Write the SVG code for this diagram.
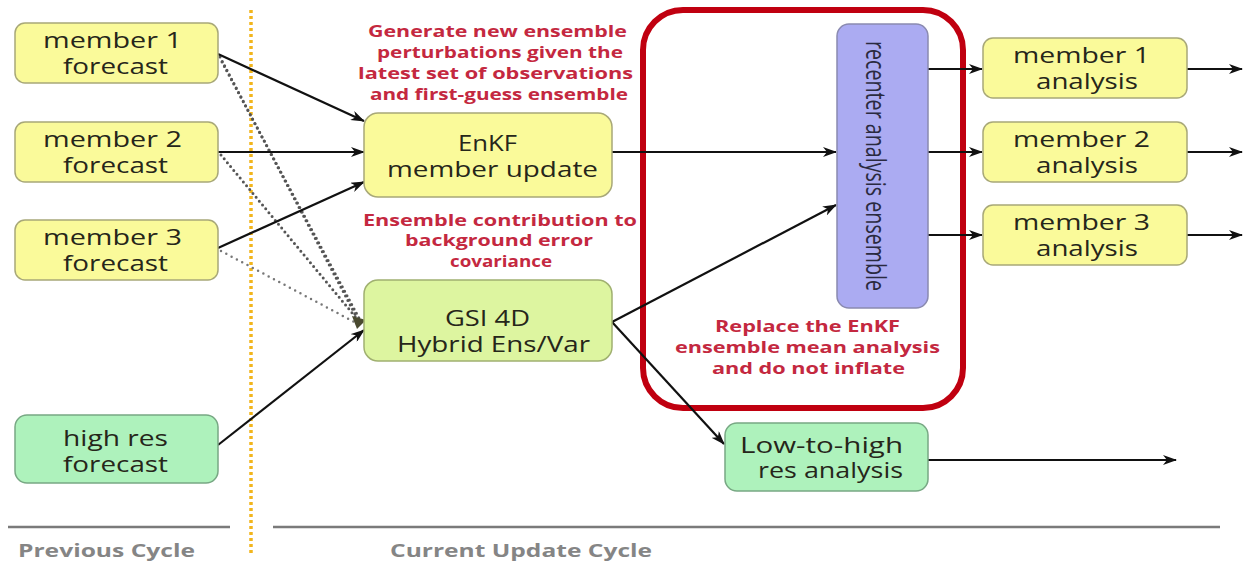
<svg xmlns="http://www.w3.org/2000/svg" width="1250" height="563" viewBox="0 0 1250 563">
<style>
.node-y{fill:#fafa9a;stroke:#a8a878;stroke-width:1.5}
.node-g{fill:#aef2bc;stroke:#78a884;stroke-width:1.5}
.node-lg{fill:#ddf5a0;stroke:#a0b070;stroke-width:1.5}
.node-b{fill:#ababf2;stroke:#8a8ab0;stroke-width:1.5}
.t{font-family:"Open Sans","Liberation Sans",sans-serif;font-size:21px;fill:#26261a}
.r{font-family:"Open Sans","Liberation Sans",sans-serif;font-size:16px;font-weight:bold;fill:#c42840}
.c{font-family:"Open Sans","Liberation Sans",sans-serif;font-size:17px;font-weight:bold;fill:#858585}
.a{stroke:#111;stroke-width:2.2;fill:none;marker-end:url(#ah)}
.d{stroke:#555;stroke-width:3;fill:none;stroke-dasharray:0 5;stroke-linecap:round}
</style>
<defs>
<marker id="ah" markerWidth="14" markerHeight="10" refX="13" refY="5" orient="auto" markerUnits="userSpaceOnUse">
<path d="M0,0 L14,5 L0,10 L4,5 z" fill="#111"/>
</marker>
</defs>
<rect width="1250" height="563" fill="#ffffff"/>

<g id="separators">
<line x1="251" y1="10" x2="251" y2="556" stroke="#f2b51c" stroke-width="3.5" stroke-dasharray="3 3"/>
<line x1="8" y1="527" x2="230" y2="527" stroke="#7a7a7a" stroke-width="2.5"/>
<line x1="273" y1="527" x2="1220" y2="527" stroke="#7a7a7a" stroke-width="2.5"/>
<text class="c" x="18" y="557" textLength="177" lengthAdjust="spacingAndGlyphs">Previous Cycle</text>
<text class="c" x="390" y="557" textLength="262" lengthAdjust="spacingAndGlyphs">Current Update Cycle</text>
</g>

<g id="recenter-group">
<rect x="643" y="10" width="320" height="398" rx="40" fill="none" stroke="#c00010" stroke-width="6"/>
<text class="r" x="715" y="332" textLength="185" lengthAdjust="spacingAndGlyphs">Replace the EnKF</text>
<text class="r" x="675" y="353" textLength="265" lengthAdjust="spacingAndGlyphs">ensemble mean analysis</text>
<text class="r" x="712" y="374" textLength="193" lengthAdjust="spacingAndGlyphs">and do not inflate</text>
</g>

<g id="labels">
<text class="r" x="368" y="37" textLength="259" lengthAdjust="spacingAndGlyphs">Generate new ensemble</text>
<text class="r" x="377" y="58" textLength="246" lengthAdjust="spacingAndGlyphs">perturbations given the</text>
<text class="r" x="358" y="79" textLength="275" lengthAdjust="spacingAndGlyphs">latest set of observations</text>
<text class="r" x="370" y="100" textLength="258" lengthAdjust="spacingAndGlyphs">and first-guess ensemble</text>
<text class="r" x="363" y="226" textLength="274" lengthAdjust="spacingAndGlyphs">Ensemble contribution to</text>
<text class="r" x="405" y="246" textLength="188" lengthAdjust="spacingAndGlyphs">background error</text>
<text class="r" x="450" y="267" textLength="102" lengthAdjust="spacingAndGlyphs">covariance</text>
</g>

<g id="connectors">
<line class="d" x1="220" y1="57" x2="356" y2="316"/>
<line class="d" x1="222" y1="62" x2="360" y2="320"/>
<line class="d" x1="221" y1="155" x2="358" y2="320"/>
<line x1="221" y1="251" x2="358" y2="324" stroke="#777" stroke-width="2.5" stroke-dasharray="0 6" stroke-linecap="round"/>
<path d="M352,316 L366,320 L357,329 z" fill="#4a4a30"/>
<line class="a" x1="218" y1="54" x2="364" y2="121"/>
<line class="a" x1="218" y1="152" x2="364" y2="152"/>
<line class="a" x1="218" y1="248" x2="364" y2="182"/>
<line class="a" x1="218" y1="445" x2="364" y2="330"/>
<line class="a" x1="612" y1="152" x2="836" y2="152"/>
<line class="a" x1="612" y1="322" x2="836" y2="205"/>
<line class="a" x1="612" y1="322" x2="724" y2="444"/>
<line class="a" x1="928" y1="69" x2="982" y2="69"/>
<line class="a" x1="928" y1="152" x2="982" y2="152"/>
<line class="a" x1="928" y1="235" x2="982" y2="235"/>
<line class="a" x1="1187" y1="69" x2="1242" y2="69"/>
<line class="a" x1="1187" y1="152" x2="1242" y2="152"/>
<line class="a" x1="1187" y1="235" x2="1242" y2="235"/>
<line class="a" x1="928" y1="460" x2="1176" y2="460"/>
</g>

<g id="member1-forecast">
<rect class="node-y" x="15" y="23" width="203" height="60" rx="10"/>
<text class="t" x="43" y="48" textLength="139" lengthAdjust="spacingAndGlyphs">member 1</text>
<text class="t" x="63" y="74" textLength="105" lengthAdjust="spacingAndGlyphs">forecast</text>
</g>
<g id="member2-forecast">
<rect class="node-y" x="15" y="122" width="203" height="60" rx="10"/>
<text class="t" x="43" y="147" textLength="139" lengthAdjust="spacingAndGlyphs">member 2</text>
<text class="t" x="63" y="173" textLength="105" lengthAdjust="spacingAndGlyphs">forecast</text>
</g>
<g id="member3-forecast">
<rect class="node-y" x="15" y="220" width="203" height="60" rx="10"/>
<text class="t" x="43" y="245" textLength="139" lengthAdjust="spacingAndGlyphs">member 3</text>
<text class="t" x="63" y="271" textLength="105" lengthAdjust="spacingAndGlyphs">forecast</text>
</g>
<g id="highres-forecast">
<rect class="node-g" x="15" y="415" width="203" height="68" rx="12"/>
<text class="t" x="63" y="446" textLength="105" lengthAdjust="spacingAndGlyphs">high res</text>
<text class="t" x="63" y="472" textLength="105" lengthAdjust="spacingAndGlyphs">forecast</text>
</g>
<g id="enkf-update">
<rect class="node-y" x="364" y="113" width="248" height="84" rx="14"/>
<text class="t" x="458" y="151" textLength="59" lengthAdjust="spacingAndGlyphs">EnKF</text>
<text class="t" x="387" y="177" textLength="211" lengthAdjust="spacingAndGlyphs">member update</text>
</g>
<g id="gsi-hybrid">
<rect class="node-lg" x="364" y="280" width="248" height="81" rx="14"/>
<text class="t" x="445" y="326" textLength="85" lengthAdjust="spacingAndGlyphs">GSI 4D</text>
<text class="t" x="397" y="352" textLength="193" lengthAdjust="spacingAndGlyphs">Hybrid Ens/Var</text>
</g>
<g id="recenter">
<rect class="node-b" x="837" y="24" width="91" height="284" rx="12"/>
<text class="t" transform="translate(866,166) rotate(90) scale(1,1.55)" x="0" y="0" text-anchor="middle" textLength="250" lengthAdjust="spacingAndGlyphs" style="fill:#2a2a40;font-size:18px">recenter analysis ensemble</text>
</g>
<g id="member1-analysis">
<rect class="node-y" x="983" y="38" width="204" height="60" rx="10"/>
<text class="t" x="1013" y="63" textLength="137" lengthAdjust="spacingAndGlyphs">member 1</text>
<text class="t" x="1036" y="89" textLength="102" lengthAdjust="spacingAndGlyphs">analysis</text>
</g>
<g id="member2-analysis">
<rect class="node-y" x="983" y="122" width="204" height="60" rx="10"/>
<text class="t" x="1013" y="147" textLength="137" lengthAdjust="spacingAndGlyphs">member 2</text>
<text class="t" x="1036" y="173" textLength="102" lengthAdjust="spacingAndGlyphs">analysis</text>
</g>
<g id="member3-analysis">
<rect class="node-y" x="983" y="205" width="204" height="60" rx="10"/>
<text class="t" x="1013" y="230" textLength="137" lengthAdjust="spacingAndGlyphs">member 3</text>
<text class="t" x="1036" y="256" textLength="102" lengthAdjust="spacingAndGlyphs">analysis</text>
</g>
<g id="lowtohigh">
<rect class="node-g" x="725" y="423" width="203" height="68" rx="12"/>
<text class="t" x="740" y="453" textLength="163" lengthAdjust="spacingAndGlyphs">Low-to-high</text>
<text class="t" x="758" y="478" textLength="145" lengthAdjust="spacingAndGlyphs">res analysis</text>
</g>
</svg>
